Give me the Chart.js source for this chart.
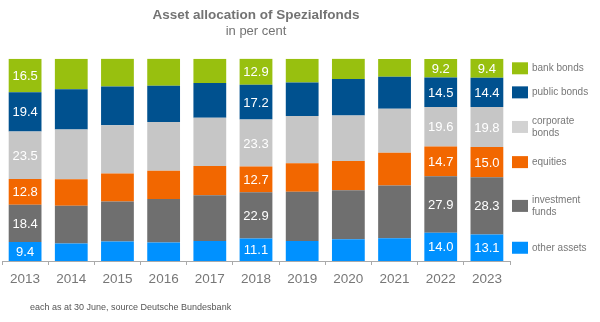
<!DOCTYPE html>
<html>
<head>
<meta charset="utf-8">
<script src="https://cdn.jsdelivr.net/npm/chart.js@4"></script>
<style>
  body { margin: 0; background: #fff; }
  canvas { display: block; }
</style>
</head>
<body>
<canvas id="fundsChart" width="600" height="322"></canvas>
<script>
const years = ['2013', '2014', '2015', '2016', '2017', '2018', '2019', '2020', '2021', '2022', '2023'];
const otherAssets     = [9.4, 8.7, 9.6, 9.1, 9.9, 11.1, 9.9, 10.7, 11.2, 14.0, 13.1];
const investmentFunds = [18.4, 18.6, 19.8, 21.6, 22.6, 22.9, 24.3, 24.3, 26.2, 27.9, 28.3];
const equities        = [12.8, 13.1, 13.9, 13.9, 14.5, 12.7, 14.2, 14.4, 16.1, 14.7, 15.0];
const corporateBonds  = [23.5, 24.6, 23.8, 24.1, 23.8, 23.3, 23.3, 22.6, 21.8, 19.6, 19.8];
const publicBonds     = [19.4, 20.0, 19.2, 18.0, 17.2, 17.2, 16.6, 18.0, 15.8, 14.5, 14.4];
const bankBonds       = [16.5, 15.0, 13.9, 13.4, 12.0, 12.9, 11.7, 10.1, 8.8, 9.2, 9.4];
const labelledYears = ['2013', '2018', '2022', '2023'];

const seriesNames = ['other assets', 'investment funds', 'equities', 'corporate bonds', 'public bonds', 'bank bonds'];
const legendLines = [['other assets'], ['investment', 'funds'], ['equities'], ['corporate', 'bonds'], ['public bonds'], ['bank bonds']];
const seriesData = [otherAssets, investmentFunds, equities, corporateBonds, publicBonds, bankBonds];
const colors = ['#0091ff', '#6f6f6f', '#f26700', '#c6c6c6', '#00518f', '#98c00f'];
const legendColors = ['#0091ff', '#6f6f6f', '#f26700', '#d2d2d2', '#00518f', '#98c00f'];

const FONT = "Arial, 'Liberation Sans', sans-serif";

// white value labels inside the segments of a few years
const valueLabels = {
  id: 'valueLabels',
  afterDatasetsDraw(chart) {
    const ctx = chart.ctx;
    ctx.save();
    ctx.font = '13px ' + FONT;
    ctx.fillStyle = '#ffffff';
    ctx.textAlign = 'center';
    ctx.textBaseline = 'middle';
    chart.data.datasets.forEach((ds, i) => {
      const meta = chart.getDatasetMeta(i);
      meta.data.forEach((bar, j) => {
        if (!labelledYears.includes(years[j])) return;
        ctx.fillText(ds.data[j].toFixed(1), bar.x, (bar.y + bar.base) / 2 + 1);
      });
    });
    ctx.restore();
  }
};

// legend on the right, each entry beside its segment of the last bar, plus footnote
const sideLegend = {
  id: 'sideLegend',
  afterDraw(chart) {
    const ctx = chart.ctx;
    const last = years.length - 1;
    ctx.save();
    ctx.font = '10px ' + FONT;
    ctx.textBaseline = 'middle';
    ctx.textAlign = 'left';
    chart.data.datasets.forEach((ds, i) => {
      const bar = chart.getDatasetMeta(i).data[last];
      const cy = (bar.y + bar.base) / 2;
      ctx.fillStyle = legendColors[i];
      ctx.fillRect(512, cy - 6, 16, 12);
      ctx.fillStyle = '#777777';
      const lines = legendLines[i];
      lines.forEach((ln, k) => {
        ctx.fillText(ln, 532, cy + (k - (lines.length - 1) / 2) * 12);
      });
    });
    ctx.font = '9px ' + FONT;
    ctx.fillStyle = '#555555';
    ctx.fillText('each as at 30 June, source Deutsche Bundesbank', 30, 308);
    ctx.restore();
  }
};

new Chart(document.getElementById('fundsChart'), {
  type: 'bar',
  data: {
    labels: years,
    datasets: seriesData.map((d, i) => ({
      label: seriesNames[i],
      data: d,
      backgroundColor: colors[i],
      borderWidth: 0,
      barPercentage: 0.71,
      categoryPercentage: 1
    }))
  },
  options: {
    responsive: false,
    animation: false,
    layout: { padding: { top: 0, left: 2, right: 90, bottom: 0 } },
    plugins: {
      legend: { display: false },
      tooltip: { enabled: false },
      title: {
        display: true,
        text: 'Asset allocation of Spezialfonds',
        color: '#737373',
        font: { family: FONT, size: 13.5, weight: 'bold' },
        padding: { top: 7, bottom: 0 }
      },
      subtitle: {
        display: true,
        text: 'in per cent',
        color: '#737373',
        font: { family: FONT, size: 13 },
        padding: { top: 0, bottom: 20 }
      }
    },
    scales: {
      x: {
        stacked: true,
        grid: { drawOnChartArea: false, tickLength: 4, color: '#aaaaaa' },
        border: { color: '#aaaaaa' },
        ticks: { color: '#777777', font: { family: FONT, size: 13.5 }, padding: 6 },
        afterFit: (s) => { s.height = 61; }
      },
      y: {
        stacked: true,
        display: false,
        min: 0,
        max: 100
      }
    }
  },
  plugins: [valueLabels, sideLegend]
});
</script>
</body>
</html>
